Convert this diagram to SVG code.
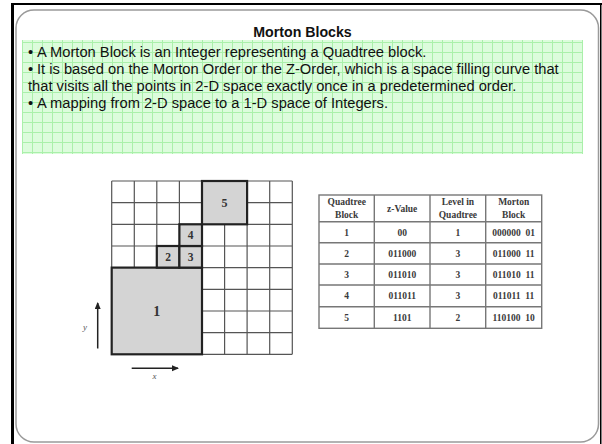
<svg xmlns="http://www.w3.org/2000/svg" width="602" height="444" viewBox="0 0 602 444">
<style>
.body{font-family:"Liberation Sans",Arial,sans-serif;font-size:14.7px;fill:#111}
.title{font-family:"Liberation Sans",Arial,sans-serif;font-size:14.2px;font-weight:bold;fill:#111}
.gl{stroke:#aaf0aa;stroke-width:1}
.grid{stroke:#555;stroke-width:1.2;fill:none}
.blk{fill:#d4d4d4;stroke:#222;stroke-width:2.2}
.bl{font-family:"Liberation Serif","Times New Roman",serif;font-weight:bold;fill:#333;text-anchor:middle}
.tb{stroke:#777;stroke-width:1.4;fill:none}
.tt{font-family:"Liberation Serif","Times New Roman",serif;font-weight:bold;font-size:9.5px;fill:#3a3a3a;text-anchor:middle}
.ax{stroke:#222;stroke-width:1.5;fill:none}
.axl{font-family:"Liberation Serif","Times New Roman",serif;font-style:italic;font-size:9px;fill:#555;text-anchor:middle}
</style>
<defs>
<marker id="ah" markerWidth="8" markerHeight="8" refX="6" refY="3" orient="auto" markerUnits="userSpaceOnUse">
<path d="M0,0 L7,3 L0,6 Z" fill="#222"/>
</marker>
</defs>
<rect width="602" height="444" fill="#fff"/>
<g id="frame">
<rect x="11" y="3" width="3" height="441" fill="#000"/>
<rect x="11" y="3" width="591" height="2" fill="#000"/>
<rect x="600" y="3" width="1.5" height="441" fill="#000"/>
<rect x="16" y="10" width="582.5" height="432" rx="18" ry="18" fill="#fff" stroke="#9a9a9a" stroke-width="1.5"/>
</g>
<text id="title" class="title" x="302.5" y="36.5" text-anchor="middle">Morton Blocks</text>
<g id="textbox">
<rect x="22" y="40" width="561" height="114" fill="#dcfcdc"/>
<path class="gl" d="M22.5,40V154M32.5,40V154M42.5,40V154M52.5,40V154M62.5,40V154M72.5,40V154M82.5,40V154M92.5,40V154M102.5,40V154M112.5,40V154M122.5,40V154M132.5,40V154M142.5,40V154M152.5,40V154M162.5,40V154M172.5,40V154M182.5,40V154M192.5,40V154M202.5,40V154M212.5,40V154M222.5,40V154M232.5,40V154M242.5,40V154M252.5,40V154M262.5,40V154M272.5,40V154M282.5,40V154M292.5,40V154M302.5,40V154M312.5,40V154M322.5,40V154M332.5,40V154M342.5,40V154M352.5,40V154M362.5,40V154M372.5,40V154M382.5,40V154M392.5,40V154M402.5,40V154M412.5,40V154M422.5,40V154M432.5,40V154M442.5,40V154M452.5,40V154M462.5,40V154M472.5,40V154M482.5,40V154M492.5,40V154M502.5,40V154M512.5,40V154M522.5,40V154M532.5,40V154M542.5,40V154M552.5,40V154M562.5,40V154M572.5,40V154M582.5,40V154M22,42.5H583M22,52.5H583M22,62.5H583M22,72.5H583M22,82.5H583M22,92.5H583M22,102.5H583M22,112.5H583M22,122.5H583M22,132.5H583M22,142.5H583M22,152.5H583"/>
<text class="body" x="28" y="57">•<tspan x="37">A Morton Block is an Integer representing a Quadtree block.</tspan></text>
<text class="body" x="28" y="74">•<tspan x="37">It is based on the Morton Order or the Z-Order, which is a space filling curve that</tspan></text>
<text class="body" x="28" y="91">that visits all the points in 2-D space exactly once in a predetermined order.</text>
<text class="body" x="28" y="108">•<tspan x="37">A mapping from 2-D space to a 1-D space of Integers.</tspan></text>
</g>
<g id="grid">
<path class="grid" d="M111.7,181V354.3M134.3,181V354.3M156.8,181V354.3M179.4,181V354.3M202,181V354.3M224.6,181V354.3M247.1,181V354.3M269.7,181V354.3M292.3,181V354.3M111.7,181H292.3M111.7,202.7H292.3M111.7,224.3H292.3M111.7,246H292.3M111.7,267.6H292.3M111.7,289.3H292.3M111.7,311H292.3M111.7,332.6H292.3M111.7,354.3H292.3"/>
</g>
<g id="block1"><rect class="blk" x="111.7" y="267.6" width="90.3" height="86.7"/><text class="bl" x="156.8" y="316" font-size="14">1</text></g>
<g id="block2"><rect class="blk" x="156.8" y="246" width="22.6" height="21.6"/><text class="bl" x="168.1" y="260.5" font-size="11.5">2</text></g>
<g id="block3"><rect class="blk" x="179.4" y="246" width="22.6" height="21.6"/><text class="bl" x="190.7" y="260.5" font-size="11.5">3</text></g>
<g id="block4"><rect class="blk" x="179.4" y="224.3" width="22.6" height="21.7"/><text class="bl" x="190.7" y="239" font-size="11.5">4</text></g>
<g id="block5"><rect class="blk" x="202" y="181" width="45.1" height="43.3"/><text class="bl" x="224.5" y="207" font-size="12">5</text></g>
<g id="connectors">
<line class="ax" x1="97.7" y1="348.5" x2="97.7" y2="303" marker-end="url(#ah)"/>
<line class="ax" x1="131.7" y1="368.3" x2="178" y2="368.3" marker-end="url(#ah)"/>
</g>
<g id="axis-labels">
<text class="axl" x="85" y="330">y</text>
<text class="axl" x="154.5" y="379">x</text>
</g>
<g id="table">
<rect class="tb" x="319" y="195" width="222.7" height="133.3"/>
<path class="tb" d="M374.3,195V328.3M430,195V328.3M485.7,195V328.3M319,221.7H541.7M319,242.7H541.7M319,264H541.7M319,285H541.7M319,306.7H541.7"/>
<text class="tt" x="346.7" y="205">Quadtree</text>
<text class="tt" x="346.7" y="217.5">Block</text>
<text class="tt" x="402.2" y="211.5">z-Value</text>
<text class="tt" x="457.9" y="205">Level in</text>
<text class="tt" x="457.9" y="217.5">Quadtree</text>
<text class="tt" x="513.7" y="205">Morton</text>
<text class="tt" x="513.7" y="217.5">Block</text>
<text class="tt" x="346.7" y="235.5">1</text><text class="tt" x="402.2" y="235.5">00</text><text class="tt" x="457.9" y="235.5">1</text><text class="tt" x="513.7" y="235.5" xml:space="preserve">000000  01</text>
<text class="tt" x="346.7" y="256.7">2</text><text class="tt" x="402.2" y="256.7">011000</text><text class="tt" x="457.9" y="256.7">3</text><text class="tt" x="513.7" y="256.7" xml:space="preserve">011000  11</text>
<text class="tt" x="346.7" y="277.8">3</text><text class="tt" x="402.2" y="277.8">011010</text><text class="tt" x="457.9" y="277.8">3</text><text class="tt" x="513.7" y="277.8" xml:space="preserve">011010  11</text>
<text class="tt" x="346.7" y="299.2">4</text><text class="tt" x="402.2" y="299.2">011011</text><text class="tt" x="457.9" y="299.2">3</text><text class="tt" x="513.7" y="299.2" xml:space="preserve">011011  11</text>
<text class="tt" x="346.7" y="320.8">5</text><text class="tt" x="402.2" y="320.8">1101</text><text class="tt" x="457.9" y="320.8">2</text><text class="tt" x="513.7" y="320.8" xml:space="preserve">110100  10</text>
</g>
</svg>
